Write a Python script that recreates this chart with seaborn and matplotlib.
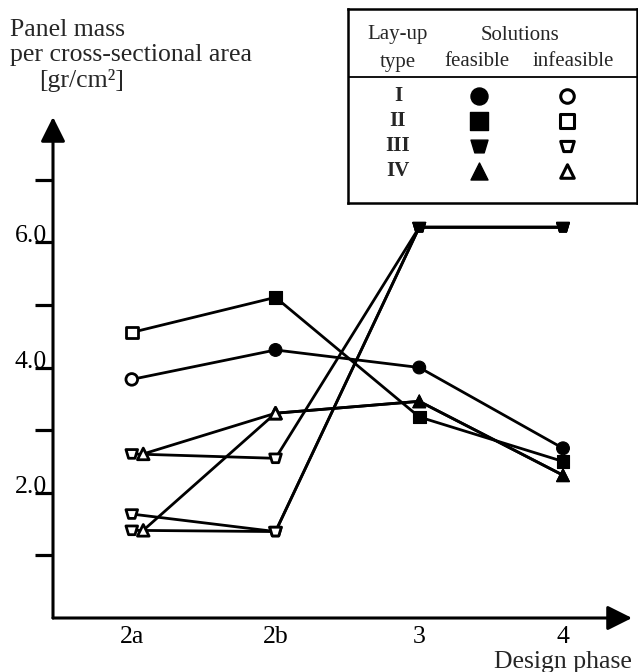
import pandas as pd
import matplotlib.pyplot as plt
import seaborn as sns
from matplotlib.path import Path

# values
phases = ["2a", "2b", "3", "4"]
types = ["I", "II", "III", "IV"]
path_names = ["I", "II", "III-a", "III-b", "III-c", "IV-a", "IV-b"]
path_types = ["I", "II", "III", "III", "III", "IV", "IV"]
mass_I = [3.81, 4.28, 4.00, 2.71]
mass_II = [4.56, 5.12, 3.21, 2.50]
mass_III_a = [2.62, 2.55, 6.24, 6.24]
mass_III_b = [1.66, 1.38, 6.24, 6.24]
mass_III_c = [1.40, 1.38, 6.24, 6.24]
mass_IV_a = [2.62, 3.27, 3.46, 2.28]
mass_IV_b = [1.40, 3.27, 3.46, 2.28]
feasible_I_II = [False, True, True, True]
feasible_III_IV = [False, False, True, True]
ytick_values = [1, 2, 3, 4, 5, 6, 7]
ytick_labels = ["", "2.0", "", "4.0", "", "6.0", ""]

# long table, one row per point
masses = [mass_I, mass_II, mass_III_a, mass_III_b, mass_III_c, mass_IV_a, mass_IV_b]
rows = []
for name, typ, mass in zip(path_names, path_types, masses):
    feas = feasible_I_II if typ in ("I", "II") else feasible_III_IV
    for i, (ph, m, f) in enumerate(zip(phases, mass, feas)):
        rows.append({"path": name, "type": typ, "phase": ph, "pos": i,
                     "mass": m, "feasible": f})
df = pd.DataFrame(rows)
# triangles sit beside the trapezoids at phase 2a
df["pos"] = df["pos"].astype(float)
df.loc[(df["type"] == "IV") & (df["phase"] == "2a"), "pos"] += 0.08

sns.set_theme(style="white")
plt.rcParams["font.family"] = ["Liberation Serif", "DejaVu Serif"]

trap = Path([(-1, 0.75), (1, 0.75), (0.55, -0.75), (-0.55, -0.75), (-1, 0.75)],
            [Path.MOVETO, Path.LINETO, Path.LINETO, Path.LINETO, Path.CLOSEPOLY])
markers = {"I": "o", "II": "s", "III": trap, "IV": "^"}

fig = plt.figure(figsize=(6.38, 6.72), dpi=100)
ax = fig.add_axes([53 / 638, 54 / 672, 579 / 638, 501 / 672])

sns.lineplot(data=df, x="pos", y="mass", units="path", estimator=None, sort=False,
             color="black", lw=2, legend=False, zorder=2, ax=ax)
sns.scatterplot(data=df[df["feasible"]], x="pos", y="mass", style="type",
                markers=markers, s=85, color="black", edgecolor="black",
                linewidth=0.8, legend=False, zorder=3, ax=ax)
sns.scatterplot(data=df[~df["feasible"]], x="pos", y="mass", style="type",
                markers=markers, s=70, color="white", edgecolor="black",
                linewidth=2.0, legend=False, zorder=3, ax=ax)

ax.set_xlim(-0.548, 3.48)
ax.set_ylim(0, 8)
for s in ax.spines.values():
    s.set_visible(False)
arrow = dict(arrowstyle="-|>,head_length=1.0,head_width=0.5", mutation_scale=15,
             lw=2.2, color="black", shrinkA=0, shrinkB=0)
ax.annotate("", xy=(1, 0), xytext=(0, 0), xycoords="axes fraction", arrowprops=arrow)
ax.annotate("", xy=(0, 1), xytext=(0, 0), xycoords="axes fraction", arrowprops=arrow)

ax.set_yticks(ytick_values)
ax.set_yticklabels(ytick_labels, va="baseline")
ax.tick_params(axis="y", left=True, length=13, width=2.3, pad=-8.5,
               labelsize=18.5, color="black", labelcolor="black")
ax.set_xticks(range(len(phases)), phases)
ax.tick_params(axis="x", bottom=False, length=0, pad=6, labelsize=18.5,
               labelcolor="black")
ax.set_xlabel("")
ax.set_ylabel("")

fig.text(10 / 638, 1 - 30 / 672, "Panel mass", fontsize=18.5, va="center")
fig.text(10 / 638, 1 - 55 / 672, "per cross-sectional area", fontsize=18.5, va="center")
fig.text(39 / 638, 1 - 80 / 672, "[gr/cm²]", fontsize=18.5, va="center")
fig.text(632 / 638, 1 - 662 / 672, "Design phase", fontsize=18.5, ha="right", va="center")

# legend table, laid out in pixel coordinates of its own axes
lax = fig.add_axes([348 / 638, 1 - 203 / 672, 289 / 638, 194 / 672])
lax.set_xlim(348, 637)
lax.set_ylim(203, 9)
lax.set_xticks([])
lax.set_yticks([])
for s in lax.spines.values():
    s.set_visible(True)
    s.set_linewidth(1.8)
    s.set_color("black")
lax.axhline(77, color="black", lw=1.3)
lax.text(398, 35, "Lay-up", fontsize=15, ha="center", va="center")
lax.text(398, 62, "type", fontsize=15, ha="center", va="center")
lax.text(520, 35, "Solutions", fontsize=15, ha="center", va="center")
lax.text(477, 62, "feasible", fontsize=15, ha="center", va="center")
lax.text(573, 62, "infeasible", fontsize=15, ha="center", va="center")
for typ, y in zip(types, [96, 121, 146, 171]):
    lax.text(398, y, typ, fontsize=15, fontweight="bold", ha="center", va="center")
    lax.scatter(479, y, marker=markers[typ], s=150, color="black", zorder=3)
    lax.scatter(567, y, marker=markers[typ], s=95, facecolor="white",
                edgecolor="black", linewidth=2.2, zorder=3)

fig.savefig("out.png", dpi=100)
